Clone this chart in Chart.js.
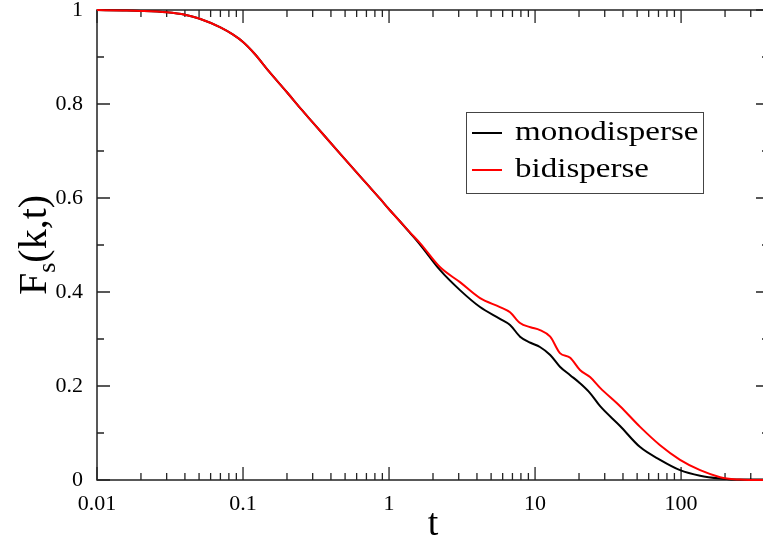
<!DOCTYPE html>
<html><head><meta charset="utf-8">
<script src="https://cdn.jsdelivr.net/npm/chart.js@4"></script>
<style>
html,body{margin:0;padding:0;overflow:hidden;background:#fff;width:763px;height:541px}
#wrap{position:relative;width:790px;height:541px}
</style></head><body>
<div id="wrap"><canvas id="c" width="790" height="541"></canvas></div>
<script>
const timeValues   = [0.01, 0.015, 0.02, 0.03, 0.04, 0.05, 0.07, 0.085, 0.1, 0.12, 0.15, 0.2, 0.25, 0.3, 0.46, 0.7, 0.87, 1, 1.19, 1.39, 1.63, 2.23, 3.06, 4.2, 5.75, 6.74, 7.89, 9.3, 10.8, 12.7, 14.8, 17.4, 20.3, 23.8, 27.9, 38.2, 52.4, 71.8, 98.4, 135, 185, 206, 250, 300, 400];
const monodisperse = [1.0, 0.999, 0.998, 0.995, 0.99, 0.982, 0.963, 0.948, 0.932, 0.907, 0.87, 0.825, 0.789, 0.761, 0.695, 0.631, 0.598, 0.576, 0.55, 0.526, 0.501, 0.447, 0.404, 0.368, 0.343, 0.33, 0.305, 0.292, 0.283, 0.266, 0.241, 0.223, 0.206, 0.185, 0.157, 0.115, 0.07, 0.043, 0.021, 0.009, 0.003, 0.002, 0.001, 0.001, 0.001];
const bidisperse   = [1.0, 0.999, 0.998, 0.995, 0.99, 0.982, 0.963, 0.948, 0.932, 0.907, 0.87, 0.825, 0.789, 0.761, 0.695, 0.631, 0.598, 0.576, 0.55, 0.527, 0.504, 0.453, 0.421, 0.387, 0.368, 0.357, 0.334, 0.325, 0.319, 0.305, 0.27, 0.26, 0.234, 0.219, 0.196, 0.157, 0.113, 0.074, 0.043, 0.021, 0.006, 0.003, 0.001, 0.0, 0.0];
const seriesLabels = ['monodisperse', 'bidisperse'];
const seriesColors = ['#000000', '#ff0000'];
const xMajorTicks = [0.01, 0.1, 1, 10, 100];
const xTickLabels = ['0.01', '0.1', '1', '10', '100'];
const yMajorTicks = [0, 0.2, 0.4, 0.6, 0.8, 1];
const yTickLabels = ['0', '0.2', '0.4', '0.6', '0.8', '1'];
const xTitle = 't';
const yTitleMain = 'F', yTitleSub = 's', yTitleRest = '(k,t)';

const SERIF = '"Liberation Serif", "Times New Roman", serif';
const X_MIN = 0.01, X_MAX = 400;

function xTickList() {
  const out = [];
  for (const m of xMajorTicks) {
    for (let k = 1; k <= 9; k++) {
      const v = m * k;
      if (v >= X_MIN - 1e-12 && v <= X_MAX + 1e-9) out.push({ value: v, major: k === 1 });
    }
  }
  return out;
}
function yTickList() {
  const out = [];
  yMajorTicks.forEach((v, i) => {
    out.push({ value: v, major: true });
    if (i < yMajorTicks.length - 1) out.push({ value: (v + yMajorTicks[i + 1]) / 2, major: false });
  });
  return out;
}
function labelFor(value, majors, labels) {
  for (let i = 0; i < majors.length; i++) if (Math.abs(majors[i] - value) < 1e-9 * Math.max(1, majors[i])) return labels[i];
  return '';
}

const framePlugin = {
  id: 'frame',
  beforeDatasetsDraw(chart) {
    const { ctx, chartArea: a, scales } = chart;
    ctx.save();
    ctx.strokeStyle = '#222';
    ctx.lineWidth = 1.5;
    ctx.strokeRect(a.left, a.top, a.right - a.left, a.bottom - a.top);
    ctx.lineWidth = 1.3;
    ctx.beginPath();
    for (const t of scales.x.ticks) {
      const x = scales.x.getPixelForValue(t.value);
      const len = t.major ? 13 : 7;
      ctx.moveTo(x, a.bottom); ctx.lineTo(x, a.bottom - len);
      ctx.moveTo(x, a.top); ctx.lineTo(x, a.top + len);
    }
    for (const t of scales.y.ticks) {
      const y = scales.y.getPixelForValue(t.value);
      const len = t.major ? 13 : 7;
      ctx.moveTo(a.left, y); ctx.lineTo(a.left + len, y);
      ctx.moveTo(a.right, y); ctx.lineTo(a.right - len, y);
    }
    ctx.stroke();
    ctx.restore();
  },
  afterDraw(chart) {
    const { ctx, chartArea: a } = chart;
    ctx.save();
    ctx.fillStyle = '#000';
    ctx.font = '38px ' + SERIF;
    ctx.textAlign = 'center';
    ctx.textBaseline = 'alphabetic';
    ctx.fillText(xTitle, (a.left + a.right) / 2, 535);
    ctx.translate(46, (a.top + a.bottom) / 2);
    ctx.rotate(-Math.PI / 2);
    ctx.textAlign = 'left';
    const big = '40px ' + SERIF, small = '26px ' + SERIF;
    ctx.font = big; const wF = ctx.measureText(yTitleMain).width; const wR = ctx.measureText(yTitleRest).width;
    ctx.font = small; const wS = ctx.measureText(yTitleSub).width;
    let x = -(wF + wS + wR) / 2;
    ctx.font = big; ctx.fillText(yTitleMain, x, 0); x += wF;
    ctx.font = small; ctx.fillText(yTitleSub, x, 9); x += wS;
    ctx.font = big; ctx.fillText(yTitleRest, x, 0);
    ctx.restore();

    ctx.save();
    ctx.strokeStyle = '#444';
    ctx.lineWidth = 1;
    ctx.strokeRect(466.5, 112.5, 237, 81);
    const rows = [133, 170];
    chart.data.datasets.forEach((ds, i) => {
      const y = rows[i];
      ctx.strokeStyle = ds.borderColor;
      ctx.lineWidth = 2;
      ctx.beginPath(); ctx.moveTo(472, y); ctx.lineTo(502, y); ctx.stroke();
      ctx.save();
      ctx.translate(515, y);
      ctx.scale(1.18, 1);
      ctx.fillStyle = '#000';
      ctx.font = '28px ' + SERIF;
      ctx.textAlign = 'left';
      ctx.textBaseline = 'middle';
      ctx.fillText(ds.label, 0, 0);
      ctx.restore();
    });
    ctx.restore();
  }
};

const toPoints = (ys) => timeValues.map((t, i) => ({ x: t, y: ys[i] }));

new Chart(document.getElementById('c'), {
  type: 'line',
  data: {
    datasets: [
      { label: seriesLabels[0], data: toPoints(monodisperse), order: 1, borderColor: seriesColors[0], backgroundColor: seriesColors[0], borderWidth: 2, pointRadius: 0, cubicInterpolationMode: 'monotone', clip: false },
      { label: seriesLabels[1], data: toPoints(bidisperse), order: 0, borderColor: seriesColors[1], backgroundColor: seriesColors[1], borderWidth: 2, pointRadius: 0, cubicInterpolationMode: 'monotone', clip: false }
    ]
  },
  options: {
    responsive: false,
    animation: false,
    events: [],
    layout: { padding: { top: 10, right: 21, left: 0, bottom: 0 } },
    plugins: { legend: { display: false }, tooltip: { enabled: false } },
    scales: {
      x: {
        type: 'logarithmic',
        min: X_MIN, max: X_MAX,
        grid: { display: false },
        border: { display: false },
        afterBuildTicks: (s) => { s.ticks = xTickList(); },
        afterFit: (s) => { s.height = 61; s.paddingLeft = 0; s.paddingRight = 0; },
        ticks: {
          autoSkip: false, maxRotation: 0, minRotation: 0, padding: 3,
          color: '#000', font: { family: SERIF, size: 22 },
          callback: (v) => labelFor(v, xMajorTicks, xTickLabels)
        }
      },
      y: {
        type: 'linear',
        min: 0, max: 1,
        grid: { display: false },
        border: { display: false },
        afterBuildTicks: (s) => { s.ticks = yTickList(); },
        afterFit: (s) => { s.width = 97; s.paddingTop = 0; s.paddingBottom = 0; },
        ticks: {
          autoSkip: false, padding: 6,
          color: '#000', font: { family: SERIF, size: 22 },
          callback: (v) => labelFor(v, yMajorTicks, yTickLabels)
        }
      }
    }
  },
  plugins: [framePlugin]
});
</script>
</body></html>
